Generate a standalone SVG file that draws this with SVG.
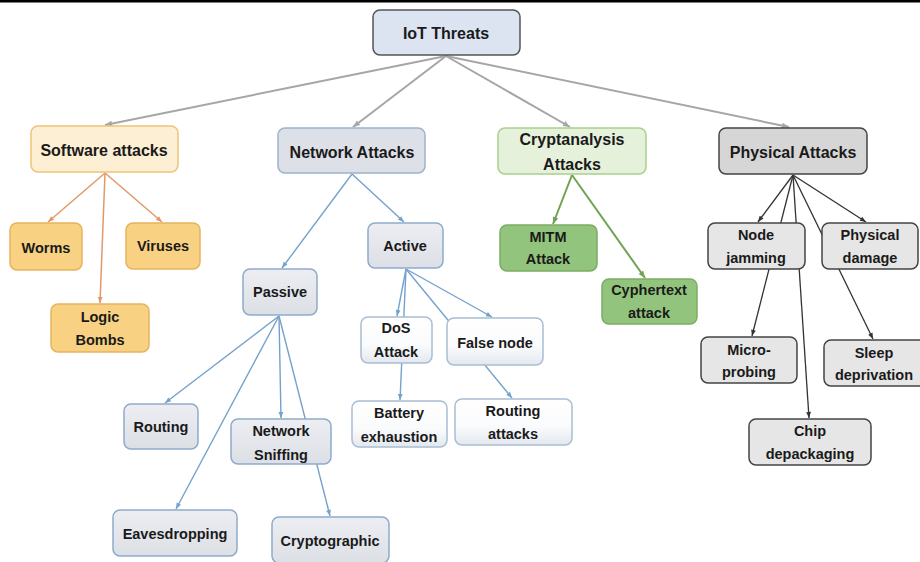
<svg xmlns="http://www.w3.org/2000/svg" width="920" height="562" viewBox="0 0 920 562">
<defs>
<style>
text{font-family:"Liberation Sans",Arial,sans-serif;font-weight:bold;fill:#1a1a1a;text-anchor:middle;dominant-baseline:central}
.t16{font-size:16px}
.t14{font-size:14.5px}
rect{stroke-width:1.5}
.root{fill:#dce3f1;stroke:#555}
.sw{fill:#fcefd3;stroke:#efc37a}
.swc{fill:#f8d282;stroke:#e8b25d}
.net{fill:#dde0e6;stroke:#9db3cc}
.netc{fill:url(#gGray);stroke:#8eaacb}
.netw{fill:url(#gWhite);stroke:#a9bdd4}
.cr{fill:#e6f1db;stroke:#a9d08e}
.crc{fill:#93c47d;stroke:#7eac63}
.ph{fill:#d6d6d6;stroke:#444}
.phc{fill:#e6e6e6;stroke:#444}
.c-root{stroke:#a6a6a6;stroke-width:2;fill:none}
.c-sw{stroke:#e09a6a;stroke-width:1.5;fill:none}
.c-net{stroke:#74a2cc;stroke-width:1.4;fill:none}
.c-cr{stroke:#6fa352;stroke-width:2;fill:none}
.c-ph{stroke:#333;stroke-width:1.3;fill:none}
</style>
<linearGradient id="gGray" x1="0" y1="0" x2="0" y2="1">
<stop offset="0" stop-color="#eceef2"/><stop offset="1" stop-color="#dcdfe5"/>
</linearGradient>
<linearGradient id="gWhite" x1="0" y1="0" x2="0" y2="1">
<stop offset="0" stop-color="#ffffff"/><stop offset="0.6" stop-color="#fafbfc"/><stop offset="1" stop-color="#e3e8ef"/>
</linearGradient>
<marker id="aRoot" viewBox="0 0 10 10" refX="10" refY="5" markerUnits="userSpaceOnUse" markerWidth="8" markerHeight="7" orient="auto"><path d="M0,1 L10,5 L0,9 z" fill="#a6a6a6"/></marker>
<marker id="aSw" viewBox="0 0 10 10" refX="10" refY="5" markerUnits="userSpaceOnUse" markerWidth="7" markerHeight="6" orient="auto"><path d="M0,1 L10,5 L0,9 z" fill="#e09a6a"/></marker>
<marker id="aNet" viewBox="0 0 10 10" refX="10" refY="5" markerUnits="userSpaceOnUse" markerWidth="7" markerHeight="6" orient="auto"><path d="M0,1 L10,5 L0,9 z" fill="#74a2cc"/></marker>
<marker id="aCr" viewBox="0 0 10 10" refX="10" refY="5" markerUnits="userSpaceOnUse" markerWidth="8" markerHeight="7" orient="auto"><path d="M0,1 L10,5 L0,9 z" fill="#6fa352"/></marker>
<marker id="aPh" viewBox="0 0 10 10" refX="10" refY="5" markerUnits="userSpaceOnUse" markerWidth="7" markerHeight="6" orient="auto"><path d="M0,1 L10,5 L0,9 z" fill="#333"/></marker>
</defs>
<rect x="0" y="0" width="920" height="562" fill="#ffffff" stroke="none"/>
<rect x="0" y="0" width="920" height="2.5" fill="#000" stroke="none"/>

<g id="connectors">
<line class="c-root" x1="446" y1="56" x2="105" y2="125" marker-end="url(#aRoot)"/>
<line class="c-root" x1="446" y1="56" x2="353" y2="127" marker-end="url(#aRoot)"/>
<line class="c-root" x1="446" y1="56" x2="570" y2="127" marker-end="url(#aRoot)"/>
<line class="c-root" x1="446" y1="56" x2="789" y2="127" marker-end="url(#aRoot)"/>

<line class="c-sw" x1="105" y1="173" x2="48" y2="222" marker-end="url(#aSw)"/>
<line class="c-sw" x1="105" y1="173" x2="100" y2="303" marker-end="url(#aSw)"/>
<line class="c-sw" x1="105" y1="173" x2="162" y2="222" marker-end="url(#aSw)"/>

<line class="c-net" x1="352" y1="174" x2="282" y2="268" marker-end="url(#aNet)"/>
<line class="c-net" x1="352" y1="174" x2="404" y2="222" marker-end="url(#aNet)"/>
<line class="c-net" x1="279" y1="316" x2="165" y2="403" marker-end="url(#aNet)"/>
<line class="c-net" x1="279" y1="316" x2="176" y2="509" marker-end="url(#aNet)"/>
<line class="c-net" x1="279" y1="316" x2="281" y2="418" marker-end="url(#aNet)"/>
<line class="c-net" x1="279" y1="316" x2="330" y2="516" marker-end="url(#aNet)"/>
<line class="c-net" x1="406" y1="269" x2="397" y2="316" marker-end="url(#aNet)"/>
<line class="c-net" x1="406" y1="269" x2="400" y2="400" marker-end="url(#aNet)"/>
<line class="c-net" x1="406" y1="269" x2="492" y2="317" marker-end="url(#aNet)"/>
<line class="c-net" x1="406" y1="269" x2="512" y2="398" marker-end="url(#aNet)"/>

<line class="c-cr" x1="572" y1="175" x2="553" y2="224" marker-end="url(#aCr)"/>
<line class="c-cr" x1="572" y1="175" x2="645" y2="278" marker-end="url(#aCr)"/>

<line class="c-ph" x1="793" y1="175" x2="758" y2="222" marker-end="url(#aPh)"/>
<line class="c-ph" x1="793" y1="175" x2="752" y2="336" marker-end="url(#aPh)"/>
<line class="c-ph" x1="793" y1="175" x2="809" y2="418" marker-end="url(#aPh)"/>
<line class="c-ph" x1="793" y1="175" x2="873" y2="339" marker-end="url(#aPh)"/>
<line class="c-ph" x1="793" y1="175" x2="866" y2="222" marker-end="url(#aPh)"/>
</g>

<g id="iot-threats"><rect class="root" x="373" y="10" width="147" height="45" rx="7"/><text class="t16" x="446" y="33">IoT Threats</text></g>

<g id="software-attacks"><rect class="sw" x="31" y="126" width="147" height="46" rx="7"/><text class="t16" x="104" y="150">Software attacks</text></g>
<g id="worms"><rect class="swc" x="10" y="223" width="72" height="47" rx="7"/><text class="t14" x="46" y="248">Worms</text></g>
<g id="viruses"><rect class="swc" x="126" y="223" width="74" height="46" rx="7"/><text class="t14" x="163" y="246">Viruses</text></g>
<g id="logic-bombs"><rect class="swc" x="51" y="304" width="98" height="48" rx="7"/><text class="t14" x="100" y="317">Logic</text><text class="t14" x="100" y="340">Bombs</text></g>

<g id="network-attacks"><rect class="net" x="278" y="128" width="147" height="45" rx="7"/><text class="t16" x="352" y="152">Network Attacks</text></g>
<g id="active"><rect class="netc" x="368" y="223" width="75" height="45" rx="7"/><text class="t14" x="405" y="246">Active</text></g>
<g id="passive"><rect class="netc" x="243" y="269" width="74" height="46" rx="7"/><text class="t14" x="280" y="292">Passive</text></g>
<g id="dos-attack"><rect class="netw" x="361" y="317" width="71" height="46" rx="7"/><text class="t14" x="396" y="328">DoS</text><text class="t14" x="396" y="352">Attack</text></g>
<g id="false-node"><rect class="netw" x="447" y="318" width="96" height="47" rx="7"/><text class="t14" x="495" y="343">False node</text></g>
<g id="battery-exhaustion"><rect class="netw" x="352" y="401" width="95" height="46" rx="7"/><text class="t14" x="399" y="413">Battery</text><text class="t14" x="399" y="437">exhaustion</text></g>
<g id="routing-attacks"><rect class="netw" x="455" y="399" width="117" height="46" rx="7"/><text class="t14" x="513" y="411">Routing</text><text class="t14" x="513" y="434">attacks</text></g>
<g id="routing"><rect class="netc" x="124" y="404" width="74" height="45" rx="7"/><text class="t14" x="161" y="427">Routing</text></g>
<g id="network-sniffing"><rect class="netc" x="231" y="419" width="100" height="45" rx="7"/><text class="t14" x="281" y="431">Network</text><text class="t14" x="281" y="455">Sniffing</text></g>
<g id="eavesdropping"><rect class="netc" x="113" y="510" width="124" height="46" rx="7"/><text class="t14" x="175" y="534">Eavesdropping</text></g>
<g id="cryptographic"><rect class="netc" x="272" y="517" width="117" height="46" rx="7"/><text class="t14" x="330" y="541">Cryptographic</text></g>

<g id="cryptanalysis-attacks"><rect class="cr" x="498" y="128" width="148" height="46" rx="7"/><text class="t16" x="572" y="139">Cryptanalysis</text><text class="t16" x="572" y="164">Attacks</text></g>
<g id="mitm-attack"><rect class="crc" x="500" y="225" width="97" height="46" rx="7"/><text class="t14" x="548" y="237">MITM</text><text class="t14" x="548" y="259">Attack</text></g>
<g id="cyphertext-attack"><rect class="crc" x="602" y="279" width="95" height="45" rx="7"/><text class="t14" x="649" y="290">Cyphertext</text><text class="t14" x="649" y="313">attack</text></g>

<g id="physical-attacks"><rect class="ph" x="719" y="128" width="148" height="46" rx="7"/><text class="t16" x="793" y="152">Physical Attacks</text></g>
<g id="node-jamming"><rect class="phc" x="708" y="223" width="97" height="46" rx="7"/><text class="t14" x="756" y="235">Node</text><text class="t14" x="756" y="258">jamming</text></g>
<g id="physical-damage"><rect class="phc" x="822" y="223" width="96" height="46" rx="7"/><text class="t14" x="870" y="235">Physical</text><text class="t14" x="870" y="258">damage</text></g>
<g id="micro-probing"><rect class="phc" x="701" y="337" width="96" height="46" rx="7"/><text class="t14" x="749" y="350">Micro-</text><text class="t14" x="749" y="372">probing</text></g>
<g id="sleep-deprivation"><rect class="phc" x="824" y="340" width="104" height="46" rx="7"/><text class="t14" x="874" y="353">Sleep</text><text class="t14" x="874" y="375">deprivation</text></g>
<g id="chip-depackaging"><rect class="phc" x="749" y="419" width="122" height="46" rx="7"/><text class="t14" x="810" y="431">Chip</text><text class="t14" x="810" y="454">depackaging</text></g>
</svg>
